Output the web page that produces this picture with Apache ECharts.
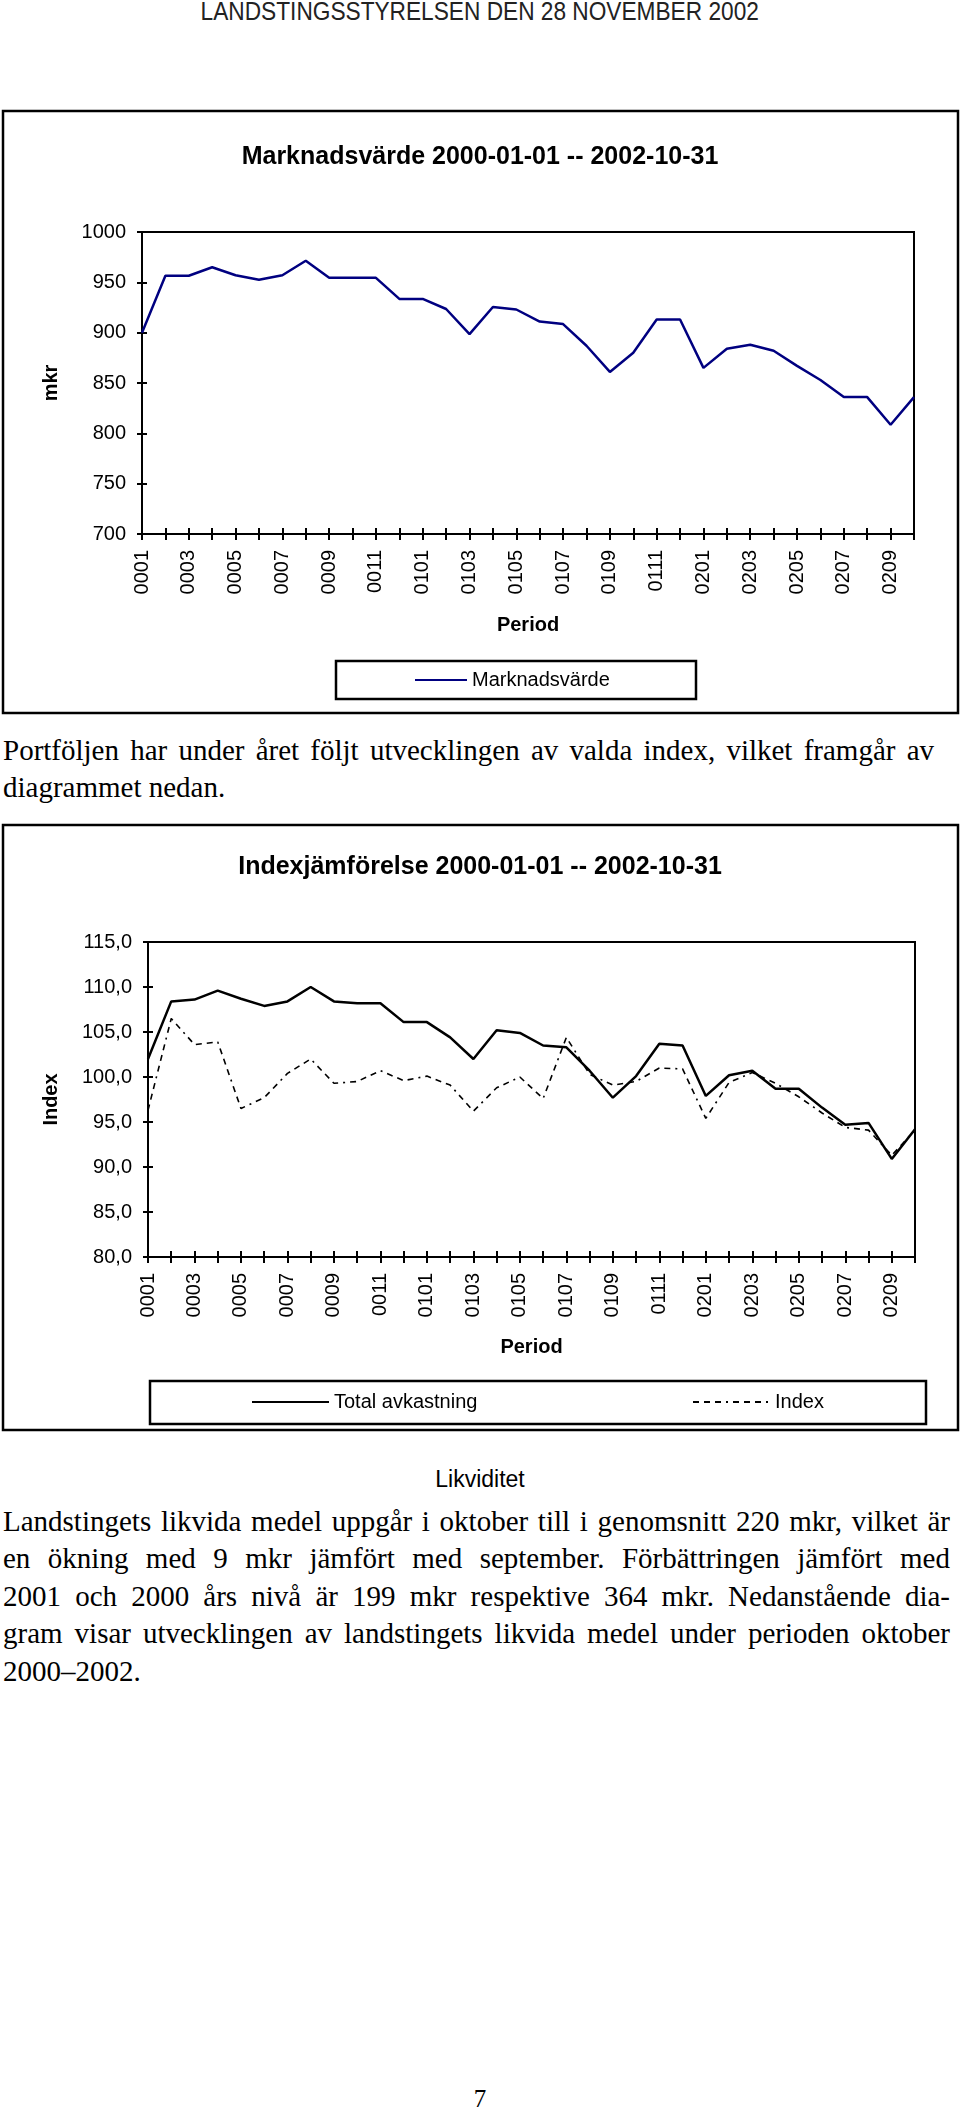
<!DOCTYPE html>
<html>
<head>
<meta charset="utf-8">
<title>Landstingsstyrelsen 28 november 2002</title>
<script src="https://cdn.jsdelivr.net/npm/echarts@6/dist/echarts.min.js"></script>
<style>
  body { margin: 0; background: #fff; }
  .page { position: relative; width: 960px; height: 2114px; overflow: hidden; }
  .abs { position: absolute; }
  .head { left: 0; top: -1px; width: 960px; text-align: center; color: #222;
          font: 25px/25px "Liberation Sans", Arial, sans-serif; }
  .head span { display: inline-block; transform: scaleX(0.907); }
  .txt { left: 3px; color: #000; font: 29px/37.5px "Liberation Serif", "Times New Roman", serif; }
  .j { text-align: justify; text-align-last: justify; }
  .rubrik { left: 0; width: 960px; top: 1466px; text-align: center;
            font: 23px/26px "Liberation Sans", Arial, sans-serif; }
  .sida { left: 0; width: 960px; top: 2084px; text-align: center;
          font: 25px/30px "Liberation Serif", "Times New Roman", serif; }
  #chart1 { left: 0; top: 100px; width: 960px; height: 620px; }
  #chart2 { left: 0; top: 815px; width: 960px; height: 625px; }
</style>
</head>
<body>
<div class="page">
  <div class="abs head"><span>LANDSTINGSSTYRELSEN DEN 28 NOVEMBER 2002</span></div>

  <div class="abs" id="chart1"></div>

  <div class="abs txt" style="top:731.5px;">
    <div class="j" style="width:931px;">Portföljen har under året följt utvecklingen av valda index, vilket framgår av</div>
    <div>diagrammet nedan.</div>
  </div>

  <div class="abs" id="chart2"></div>

  <div class="abs rubrik">Likviditet</div>

  <div class="abs txt" style="top:1502.5px; width:947px;">
    <div class="j">Landstingets likvida medel uppgår i oktober till i genomsnitt 220 mkr, vilket är</div>
    <div class="j">en ökning med 9 mkr jämfört med september. Förbättringen jämfört med</div>
    <div class="j">2001 och 2000 års nivå är 199 mkr respektive 364 mkr. Nedanstående dia-</div>
    <div class="j">gram visar utvecklingen av landstingets likvida medel under perioden oktober</div>
    <div>2000–2002.</div>
  </div>

  <div class="abs sida">7</div>
</div>

<script>
// perioder ÅÅMM
const months = ['0001','0002','0003','0004','0005','0006','0007','0008','0009','0010','0011','0012',
                '0101','0102','0103','0104','0105','0106','0107','0108','0109','0110','0111','0112',
                '0201','0202','0203','0204','0205','0206','0207','0208','0209','0210'];

// Marknadsvärde, mkr
const marknadsvarde = [900, 956.5, 956.5, 965, 957, 952.5, 957, 971.5, 954.5, 954.5, 954.5, 933.5,
                       933.5, 923.5, 898.5, 925.5, 923, 911, 908.5, 887, 861, 880, 913, 913,
                       865, 884, 888, 882, 867, 853, 836, 836, 808.5, 836];

// Indexjämförelse
const totalAvkastning = [102.0, 108.4, 108.6, 109.6, 108.7, 107.9, 108.4, 110.0, 108.4, 108.2, 108.2, 106.1,
                         106.1, 104.4, 102.0, 105.2, 104.9, 103.5, 103.3, 100.7, 97.7, 100.1, 103.7, 103.5,
                         97.9, 100.2, 100.7, 98.7, 98.7, 96.6, 94.7, 94.9, 90.9, 94.2];
const indexSerie = [96.3, 106.5, 103.6, 103.9, 96.5, 97.7, 100.4, 102.0, 99.3, 99.5, 100.7, 99.6,
                    100.1, 99.1, 96.2, 98.8, 100.0, 97.6, 104.4, 100.3, 99.1, 99.5, 101.0, 100.9,
                    95.4, 99.4, 100.5, 99.3, 97.8, 96.0, 94.4, 94.1, 91.3, 94.1];

const FONT = '"Liberation Sans", Arial, sans-serif';
const black = '#000';

// kategoriaxel med streck som korsar axeln (två axlar på samma plats)
function xAxes(nameGap) {
  return [
    {
      type: 'category', data: months, boundaryGap: false,
      axisLine: { lineStyle: { color: black, width: 2 } },
      axisTick: { interval: 0, length: 6, lineStyle: { color: black, width: 2 } },
      axisLabel: { interval: 1, rotate: 90, margin: 16, color: black, fontSize: 20, fontFamily: FONT },
      name: 'Period', nameLocation: 'middle', nameGap: nameGap,
      nameTextStyle: { color: black, fontSize: 20, fontWeight: 'bold', fontFamily: FONT }
    },
    {
      type: 'category', data: months, boundaryGap: false, position: 'bottom',
      axisLine: { show: false },
      axisTick: { inside: true, interval: 0, length: 6, lineStyle: { color: black, width: 2 } },
      axisLabel: { show: false }
    }
  ];
}

function yAxes(min, max, step, name, nameGap, fmt) {
  return [
    {
      type: 'value', min: min, max: max, interval: step,
      splitLine: { show: false },
      axisLine: { show: true, lineStyle: { color: black, width: 2 } },
      axisTick: { show: true, length: 5, lineStyle: { color: black, width: 2 } },
      axisLabel: { margin: 16, color: black, fontSize: 20, fontFamily: FONT, formatter: fmt },
      name: name, nameLocation: 'middle', nameGap: nameGap, nameRotate: 90,
      nameTextStyle: { color: black, fontSize: 20, fontWeight: 'bold', fontFamily: FONT }
    },
    {
      type: 'value', min: min, max: max, interval: step, position: 'left',
      splitLine: { show: false },
      axisLine: { show: false },
      axisTick: { show: true, inside: true, length: 5, lineStyle: { color: black, width: 2 } },
      axisLabel: { show: false }
    }
  ];
}

function box(x, y, w, h) {
  return { type: 'rect', shape: { x: x, y: y, width: w, height: h },
           style: { fill: 'none', stroke: black, lineWidth: 2.5 }, silent: true };
}

function legendItem(name, left, top, width) {
  return {
    data: [name], left: left, top: top, padding: 0, selectedMode: false,
    itemWidth: width, itemHeight: 14,
    itemStyle: { opacity: 0 },
    textStyle: { color: black, fontSize: 20, fontFamily: FONT, lineHeight: 22 }
  };
}

// --- Marknadsvärde ---
const chart1 = echarts.init(document.getElementById('chart1'));
chart1.setOption({
  animation: false,
  title: {
    text: 'Marknadsvärde 2000-01-01 -- 2002-10-31', left: 'center', top: 44, padding: 0,
    textStyle: { color: black, fontSize: 25, fontWeight: 'bold', fontFamily: FONT, lineHeight: 26 }
  },
  grid: { left: 142, top: 132, width: 772, height: 302, show: true, borderColor: black, borderWidth: 2 },
  xAxis: xAxes(81),
  yAxis: yAxes(700, 1000, 50, 'mkr', 81, v => String(v)),
  legend: legendItem('Marknadsvärde', 414, 569, 52),
  graphic: [ box(3, 11, 955, 602), box(336, 561, 360, 38) ],
  series: [{
    name: 'Marknadsvärde', type: 'line', data: marknadsvarde, symbol: 'none',
    lineStyle: { color: '#000080', width: 2.5 }, itemStyle: { color: '#000080' }
  }]
});

// --- Indexjämförelse ---
const komma = v => v.toFixed(1).replace('.', ',');
const chart2 = echarts.init(document.getElementById('chart2'));
chart2.setOption({
  animation: false,
  title: {
    text: 'Indexjämförelse 2000-01-01 -- 2002-10-31', left: 'center', top: 39, padding: 0,
    textStyle: { color: black, fontSize: 25, fontWeight: 'bold', fontFamily: FONT, lineHeight: 26 }
  },
  grid: { left: 148, top: 127, width: 767, height: 315, show: true, borderColor: black, borderWidth: 2 },
  xAxis: xAxes(80),
  yAxis: yAxes(80, 115, 5, 'Index', 87, komma),
  legend: [
    legendItem('Total avkastning', 251, 576, 77),
    legendItem('Index', 692, 576, 77)
  ],
  graphic: [ box(3, 10, 955, 605), box(150, 566, 776, 43) ],
  series: [
    {
      name: 'Total avkastning', type: 'line', data: totalAvkastning, symbol: 'none',
      lineStyle: { color: black, width: 2.5 }, itemStyle: { color: black }
    },
    {
      name: 'Index', type: 'line', data: indexSerie, symbol: 'none',
      lineStyle: { color: black, width: 1.6, type: [6, 5, 6, 5, 6, 5, 2, 5] }, itemStyle: { color: black }
    }
  ]
});
</script>
</body>
</html>
